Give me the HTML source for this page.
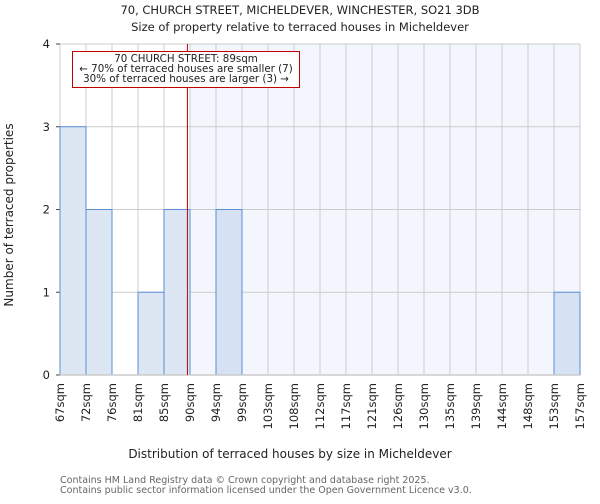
<!DOCTYPE html>
<html><head><meta charset="utf-8"><style>
body{margin:0;background:#fff;font-family:"DejaVu Sans","Liberation Sans",sans-serif}
svg text{font-family:"DejaVu Sans","Liberation Sans",sans-serif}
</style></head><body>
<svg id="c" width="600" height="500" xmlns="http://www.w3.org/2000/svg">
<text x="300" y="14" text-anchor="middle" font-size="11.5" fill="#222">70, CHURCH STREET, MICHELDEVER, WINCHESTER, SO21 3DB</text>
<text x="300" y="31" text-anchor="middle" font-size="11.5" fill="#222">Size of property relative to terraced houses in Micheldever</text>
<g id="plot"></g>
<text x="290" y="458" text-anchor="middle" font-size="12" fill="#222">Distribution of terraced houses by size in Micheldever</text>
<text transform="translate(13,215) rotate(-90)" text-anchor="middle" font-size="12" fill="#222">Number of terraced properties</text>
<text x="60" y="483" font-size="9.5" fill="#666">Contains HM Land Registry data © Crown copyright and database right 2025.</text>
<text x="60" y="493" font-size="9.5" fill="#666">Contains public sector information licensed under the Open Government Licence v3.0.</text>
</svg>
<script>
const tickLabels=["67sqm","72sqm","76sqm","81sqm","85sqm","90sqm","94sqm","99sqm","103sqm","108sqm","112sqm","117sqm","121sqm","126sqm","130sqm","135sqm","139sqm","144sqm","148sqm","153sqm","157sqm"];
const counts=[3,2,0,1,2,0,2,0,0,0,0,0,0,0,0,0,0,0,0,1];
const yTicks=[0,1,2,3,4];
const propertyBin=4.9;
const NS="http://www.w3.org/2000/svg";
const L=60,R=580,T=44,B=375,yMax=4;
const n=counts.length,bw=(R-L)/n;
const xs=i=>L+i*bw, ys=v=>B-(v/yMax)*(B-T);
const g=document.getElementById('plot');
function mk(t,a){const e=document.createElementNS(NS,t);for(const k in a)e.setAttribute(k,a[k]);g.appendChild(e);return e;}
const px=xs(propertyBin);
const shadeStart=xs(Math.ceil(propertyBin));
let e=mk('rect',{x:shadeStart,y:T,width:R-shadeStart,height:B-T,fill:'#f3f6fd'});

for(let i=0;i<=n;i++){e=mk('line',{x1:xs(i),x2:xs(i),y1:T,y2:B,stroke:'#cccccc','stroke-width':1});
}
yTicks.forEach(v=>{e=mk('line',{x1:L,x2:R,y1:ys(v),y2:ys(v),stroke:'#cccccc','stroke-width':1});

e=mk('line',{x1:L-4,x2:L,y1:ys(v),y2:ys(v),stroke:'#444'});

e=mk('text',{x:L-10,y:ys(v)+4,'text-anchor':'end','font-size':11.5,fill:'#222'});e.textContent=v;
});
counts.forEach((c,i)=>{if(!c)return;const right=i>=Math.ceil(propertyBin);
e=mk('rect',{x:xs(i),y:ys(c),width:bw,height:B-ys(c),fill:right?'#d6e2f4':'#dde7f3',stroke:'#5b8fd4','stroke-width':1});
});
e=mk('line',{x1:L,x2:R,y1:B,y2:B,stroke:'#cccccc','stroke-width':1.5});

tickLabels.forEach((t,i)=>{const x=xs(i);
e=mk('text',{transform:`translate(${x+4},${B+8}) rotate(-90)`,'text-anchor':'end','font-size':11.5,fill:'#222'});e.textContent=t;
});
e=mk('line',{x1:px,x2:px,y1:T,y2:B,stroke:'#b00000','stroke-width':1});

e=mk('rect',{x:72.5,y:51.5,width:227,height:36,fill:'#fff',stroke:'#c00000','stroke-width':1});

["70 CHURCH STREET: 89sqm","← 70% of terraced houses are smaller (7)","30% of terraced houses are larger (3) →"].forEach((t,k)=>{
e=mk('text',{x:186,y:62+k*10,'text-anchor':'middle','font-size':10.3,fill:'#222'});e.textContent=t;
});
</script>
</body></html>
